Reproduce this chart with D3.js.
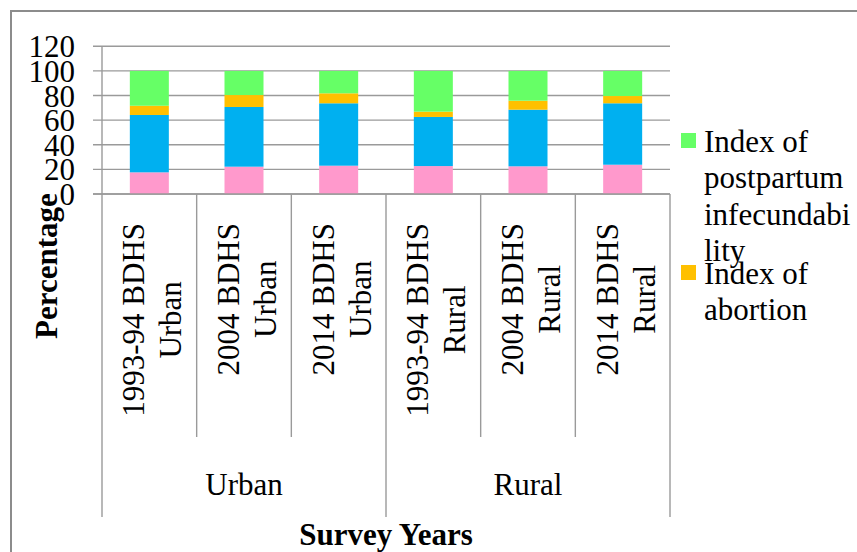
<!DOCTYPE html>
<html>
<head>
<meta charset="utf-8">
<script src="https://cdn.jsdelivr.net/npm/d3@7"></script>
<style>
  html, body { margin: 0; padding: 0; background: #fff; }
  svg { display: block; }
  text { font-family: "Liberation Serif", "Times New Roman", serif; fill: #000; }
</style>
</head>
<body>
<svg id="chart" width="857" height="552"></svg>
<script>
// ---- data ----
const surveys = ["1993-94 BDHS", "2004 BDHS", "2014 BDHS", "1993-94 BDHS", "2004 BDHS", "2014 BDHS"];
const areas = ["Urban", "Urban", "Urban", "Rural", "Rural", "Rural"];
const groups = ["Urban", "Rural"];
const seriesKeys = ["Index of marriage", "Index of contraception", "Index of abortion", "Index of postpartum infecundability"];
const marriage = [17.6, 22.2, 23.0, 22.7, 22.5, 23.8];
const contraception = [46.6, 48.5, 50.7, 39.9, 46.0, 49.9];
const abortion = [7.5, 9.7, 8.1, 4.3, 7.3, 5.9];
const postpartum = [28.3, 19.6, 18.2, 33.1, 24.2, 20.4];
const yTicks = [0, 20, 40, 60, 80, 100, 120];
const legendKeys = ["Index of postpartum infecundability", "Index of abortion"];
const legendLines = [["Index of", "postpartum", "infecundabi", "lity"], ["Index of", "abortion"]];

const colors = {
  "Index of marriage": "#FF99CC",
  "Index of contraception": "#00B0F0",
  "Index of abortion": "#FFC000",
  "Index of postpartum infecundability": "#66FF66"
};

// ---- build table ----
const categories = surveys.map((s, i) => s + " " + areas[i]);
const table = categories.map((c, i) => ({
  cat: c,
  "Index of marriage": marriage[i],
  "Index of contraception": contraception[i],
  "Index of abortion": abortion[i],
  "Index of postpartum infecundability": postpartum[i]
}));

const svg = d3.select("#chart");
const FS = 31;
const plotL = 102, plotR = 670, plotT = 46.3, plotB = 194;
const gridColor = "#9a9a9a";

// outer frame
svg.append("rect").attr("x", 11).attr("y", 11).attr("width", 900).attr("height", 600)
  .attr("fill", "none").attr("stroke", "#8c8c8c").attr("stroke-width", 2);

const x = d3.scaleBand().domain(categories).range([plotL, plotR])
  .paddingInner(0.588).paddingOuter(0.294);
const y = d3.scaleLinear().domain([0, 120]).range([plotB, plotT]);

// gridlines + y tick labels
svg.append("g").selectAll("line").data(yTicks).join("line")
  .attr("x1", 93).attr("x2", plotR)
  .attr("y1", d => y(d)).attr("y2", d => y(d))
  .attr("stroke", gridColor).attr("stroke-width", 1.4);
svg.append("g").selectAll("text").data(yTicks).join("text")
  .attr("x", 75).attr("y", d => y(d) + 11)
  .attr("text-anchor", "end").attr("font-size", FS).text(d => d);

// y axis line
svg.append("line").attr("x1", plotL).attr("x2", plotL).attr("y1", y(120)).attr("y2", y(0))
  .attr("stroke", gridColor).attr("stroke-width", 1.4);

// stacked bars
const stack = d3.stack().keys(seriesKeys);
const stacked = stack(table);
svg.append("g").selectAll("g").data(stacked).join("g")
  .attr("fill", d => colors[d.key])
  .selectAll("rect").data(d => d).join("rect")
  .attr("x", d => x(d.data.cat))
  .attr("width", x.bandwidth())
  .attr("y", d => y(d[1]))
  .attr("height", d => y(d[0]) - y(d[1]));

// x axis baseline
svg.append("line").attr("x1", 93).attr("x2", plotR).attr("y1", plotB).attr("y2", plotB)
  .attr("stroke", gridColor).attr("stroke-width", 1.4);

// category dividers
const step = x.step();
const dividers = d3.range(categories.length + 1).map(i => plotL + i * step);
svg.append("g").selectAll("line").data(dividers).join("line")
  .attr("x1", d => d).attr("x2", d => d)
  .attr("y1", plotB)
  .attr("y2", (d, i) => (i % 3 === 0) ? 517 : 437)
  .attr("stroke", gridColor).attr("stroke-width", 1.4);

// rotated category labels
categories.forEach((c, i) => {
  const cx = x(c) + x.bandwidth() / 2;
  const g = svg.append("g");
  const lines = [surveys[i], areas[i]];
  const t = g.append("text").attr("font-size", FS).attr("text-anchor", "middle");
  lines.forEach((l, j) => {
    t.append("tspan").attr("x", 0).attr("y", j === 0 ? -5 : 32).text(l);
  });
  let maxW = 0;
  t.selectAll("tspan").each(function () { maxW = Math.max(maxW, this.getComputedTextLength()); });
  g.attr("transform", `translate(${cx},${223 + maxW / 2}) rotate(-90)`);
});

// group labels
groups.forEach((gName, i) => {
  const cx = (dividers[i * 3] + dividers[i * 3 + 3]) / 2;
  svg.append("text").attr("x", cx).attr("y", 495).attr("text-anchor", "middle")
    .attr("font-size", FS).text(gName);
});

// axis titles
svg.append("text").attr("x", (plotL + plotR) / 2).attr("y", 545).attr("text-anchor", "middle")
  .attr("font-size", FS).attr("font-weight", "bold").text("Survey Years");
svg.append("text").attr("transform", "translate(57,266) rotate(-90)").attr("text-anchor", "middle")
  .attr("font-size", FS).attr("font-weight", "bold").text("Percentage");

// legend
const legendY = [133, 265];
legendKeys.forEach((k, i) => {
  svg.append("rect").attr("x", 681).attr("y", legendY[i]).attr("width", 15).attr("height", 15)
    .attr("fill", colors[k]);
  const t = svg.append("text").attr("font-size", FS);
  legendLines[i].forEach((l, j) => {
    t.append("tspan").attr("x", 704).attr("y", legendY[i] + 7.5 + 11 + j * 36.5).text(l);
  });
});
</script>
</body>
</html>
